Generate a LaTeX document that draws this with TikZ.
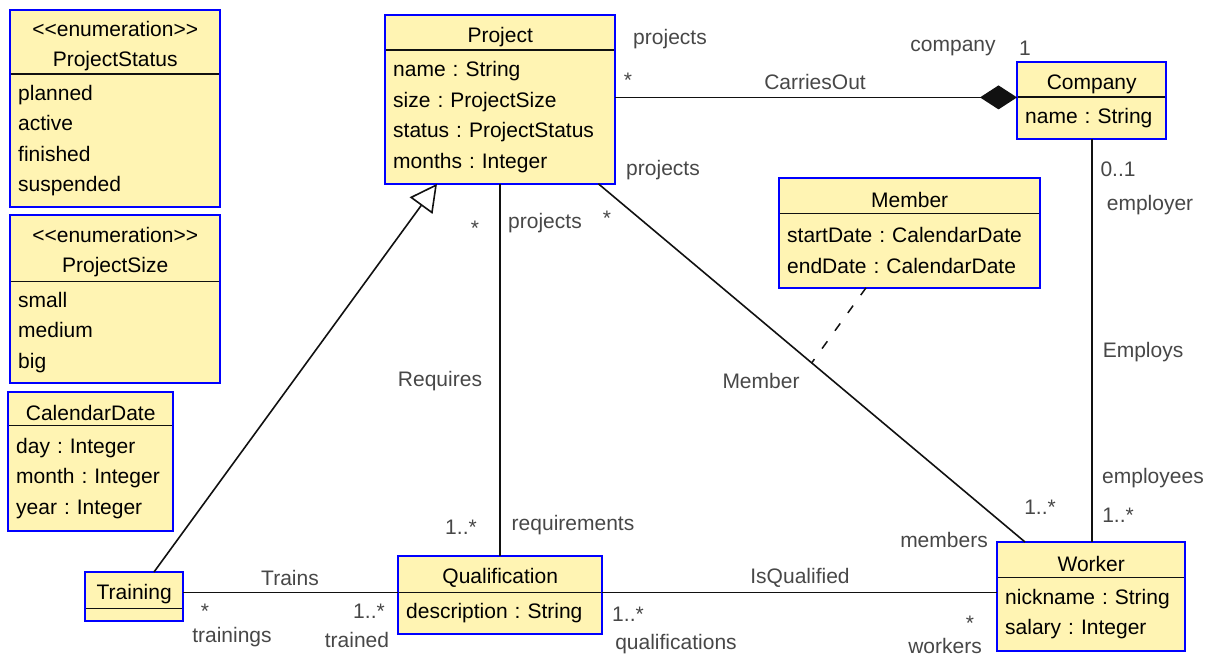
\documentclass[tikz,border=0pt]{standalone}
\usepackage{fontspec}
\setmainfont{Liberation Sans}
\usetikzlibrary{arrows.meta, calc}
\definecolor{umlBlue}{HTML}{0000FF}
\definecolor{umlFill}{HTML}{FFF4B3}
\definecolor{umlInk}{HTML}{111111}
\definecolor{umlGrey}{HTML}{474747}
\newcommand{\umlfont}{\fontsize{21}{30.5}\selectfont\frenchspacing}
% class box: name, left, top, width, head height, body height, head text, attributes
\newcommand{\umlclass}[8]{%
  \node[clshead, minimum width=#4pt, minimum height=#5pt] (#1) at (#2,#3)
    {\rule{0pt}{23pt}#7};
  \node[clsbody, minimum width=#4pt, minimum height=#6pt, text width={#4pt-16pt}]
    (#1-b) at (#1.south west) {#8};
  \draw[clssep] (#1.south west) -- (#1.south east);
  \draw[clsframe] (#1.north west) rectangle (#1-b.south east);
}

\begin{document}
\begin{tikzpicture}[
    x=1pt, y=1pt,
    clshead/.style={fill=umlFill, anchor=north west, align=center, inner sep=0pt,
                    font=\umlfont, text=black},
    clsbody/.style={fill=umlFill, anchor=north west, align=left, inner xsep=8pt,
                    inner ysep=0pt, font=\umlfont, text=black},
    clssep/.style={draw=umlInk, line width=1.8pt},
    clsframe/.style={draw=umlBlue, line width=2pt},
    lbl/.style={font=\umlfont, text=umlGrey, inner sep=0pt},
    assoc/.style={draw=umlInk, line width=1.6pt},
    compose/.style={assoc, -{Diamond[length=37pt, width=24pt]}},
    gen/.style={assoc, -{Triangle[open, length=27pt, width=28pt, fill=white]}},
    assocdash/.style={draw=umlInk, line width=1.5pt, dash pattern=on 9pt off 13pt},
  ]
  \useasboundingbox (0,0) rectangle (1217,-658);

  % enumerations and data types on the left
  \umlclass{pstat}{10}{-10}{210}{64}{132}
    {<{}<enumeration>{}>\\ProjectStatus}{planned\\active\\finished\\suspended}
  \umlclass{psize}{10}{-215}{210}{66}{101}
    {<{}<enumeration>{}>\\ProjectSize}{small\\medium\\big}
  \umlclass{cdate}{8}{-392}{165}{33}{105}
    {CalendarDate}{day : Integer\\month : Integer\\year : Integer}

  % classes
  \umlclass{proj}{385}{-15}{230}{35}{133}
    {Project}{name : String\\size : ProjectSize\\status : ProjectStatus\\months : Integer}
  \umlclass{comp}{1017}{-62}{149}{35}{41}{Company}{name : String}
  \umlclass{memb}{779}{-178}{261}{35}{74}
    {Member}{startDate : CalendarDate\\endDate : CalendarDate}
  \umlclass{train}{85}{-572}{98}{36}{12}{Training}{}
  \umlclass{qual}{398}{-556}{204}{36}{41}{Qualification}{description : String}
  \umlclass{work}{997}{-542}{188}{35}{73}{Worker}{nickname : String\\salary : Integer}

  % associations
  \draw[compose] (proj-b.east |- comp.south west) -- (comp.south west);
  \draw[assoc] (comp-b.south) -- (comp-b.south |- work.north);
  \draw[assoc] (proj-b.south) -- (proj-b.south |- qual.north);
  \draw[assoc] ($(proj-b.south east)+(-17,0)$) -- coordinate[pos=0.5] (mMid)
    ($(work.north west)+(28,0)$);
  \draw[assocdash] ($(memb-b.south west)+(87,0)$) -- (mMid);
  \draw[gen] ($(train.north west)+(69,0)$) -- ($(proj-b.south west)+(52,0)$);
  \draw[assoc] (qual.south west -| train.east) -- (qual.south west);
  \draw[assoc] (qual.south east) -- (qual.south east -| work.west);

  % CarriesOut
  \node[lbl] (rProjCo) at (670,-39) {projects};
  \node[lbl] (mProjCo) at (628,-80) {*};
  \node[lbl] (aCarries) at (815,-82) {CarriesOut};
  \node[lbl] (rComp) at (953,-48) {company};
  \node[lbl] (mComp) at (1025,-48) {1};
  % Employs
  \node[lbl] (mEmployer) at (1118,-169) {0..1};
  \node[lbl] (rEmployer) at (1150,-205) {employer};
  \node[lbl] (aEmploys) at (1143,-352) {Employs};
  \node[lbl] (rEmployees) at (1153,-478) {employees};
  \node[lbl] (mEmployees) at (1118,-515) {1..*};
  % Member
  \node[lbl] (rProjMb) at (663,-170) {projects};
  \node[lbl] (mProjMb) at (607,-218) {*};
  \node[lbl] (aMember) at (761,-381) {Member};
  \node[lbl] (mMembers) at (1040,-507) {1..*};
  \node[lbl] (rMembers) at (944,-540) {members};
  % Requires
  \node[lbl] (mProjRq) at (475,-228) {*};
  \node[lbl] (rProjRq) at (545,-223) {projects};
  \node[lbl] (aRequires) at (440,-381) {Requires};
  \node[lbl] (mReq) at (461,-527) {1..*};
  \node[lbl] (rReq) at (573,-525) {requirements};
  % Trains
  \node[lbl] (aTrains) at (290,-578) {Trains};
  \node[lbl] (mTrainings) at (205,-611) {*};
  \node[lbl] (rTrainings) at (232,-637) {trainings};
  \node[lbl] (mTrained) at (369,-611) {1..*};
  \node[lbl] (rTrained) at (357,-640) {trained};
  % IsQualified
  \node[lbl] (aQualified) at (800,-578) {IsQualified};
  \node[lbl] (mQuals) at (628,-614) {1..*};
  \node[lbl] (rQuals) at (676,-644) {qualifications};
  \node[lbl] (mWorkers) at (970,-623) {*};
  \node[lbl] (rWorkers) at (945,-646) {workers};
\end{tikzpicture}
\end{document}
